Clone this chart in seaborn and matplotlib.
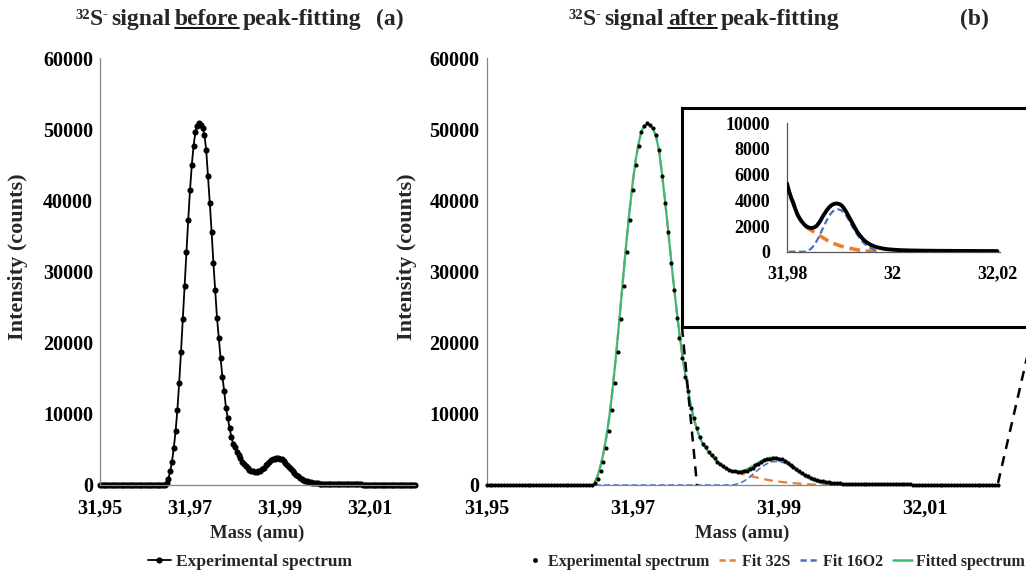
import numpy as np
import pandas as pd
import matplotlib
matplotlib.use("Agg")
import matplotlib.pyplot as plt
import seaborn as sns
from matplotlib.lines import Line2D
from matplotlib.transforms import IdentityTransform

# ---------------- data ----------------
mass = [
    31.9500, 31.9504, 31.9508, 31.9512, 31.9516, 31.9520, 31.9524, 31.9528, 31.9532, 31.9536,
    31.9540, 31.9544, 31.9548, 31.9552, 31.9556, 31.9560, 31.9564, 31.9568, 31.9572, 31.9576,
    31.9580, 31.9584, 31.9588, 31.9592, 31.9596, 31.9600, 31.9604, 31.9608, 31.9612, 31.9616,
    31.9620, 31.9624, 31.9628, 31.9632, 31.9636, 31.9640, 31.9644, 31.9648, 31.9652, 31.9656,
    31.9660, 31.9664, 31.9668, 31.9672, 31.9676, 31.9680, 31.9684, 31.9688, 31.9692, 31.9696,
    31.9700, 31.9704, 31.9708, 31.9712, 31.9716, 31.9720, 31.9724, 31.9728, 31.9732, 31.9736,
    31.9740, 31.9744, 31.9748, 31.9752, 31.9756, 31.9760, 31.9764, 31.9768, 31.9772, 31.9776,
    31.9780, 31.9784, 31.9788, 31.9792, 31.9796, 31.9800, 31.9804, 31.9808, 31.9812, 31.9816,
    31.9820, 31.9824, 31.9828, 31.9832, 31.9836, 31.9840, 31.9844, 31.9848, 31.9852, 31.9856,
    31.9860, 31.9864, 31.9868, 31.9872, 31.9876, 31.9880, 31.9884, 31.9888, 31.9892, 31.9896,
    31.9900, 31.9904, 31.9908, 31.9912, 31.9916, 31.9920, 31.9924, 31.9928, 31.9932, 31.9936,
    31.9940, 31.9944, 31.9948, 31.9952, 31.9956, 31.9960, 31.9964, 31.9968, 31.9972, 31.9976,
    31.9980, 31.9984, 31.9988, 31.9992, 31.9996, 32.0000, 32.0004, 32.0008, 32.0012, 32.0016,
    32.0020, 32.0024, 32.0028, 32.0032, 32.0036, 32.0040, 32.0044, 32.0048, 32.0052, 32.0056,
    32.0060, 32.0064, 32.0068, 32.0072, 32.0076, 32.0080, 32.0084, 32.0088, 32.0092, 32.0096,
    32.0100, 32.0104, 32.0108, 32.0112, 32.0116, 32.0120, 32.0124, 32.0128, 32.0132, 32.0136,
    32.0140, 32.0144, 32.0148, 32.0152, 32.0156, 32.0160, 32.0164, 32.0168, 32.0172, 32.0176,
    32.0180, 32.0184, 32.0188, 32.0192, 32.0196, 32.0200,
]
intensity = [
    0, 0, 0, 0, 0, 0, 0, 0, 0, 0,
    0, 0, 0, 0, 0, 0, 0, 0, 0, 0,
    0, 0, 0, 0, 0, 0, 0, 0, 0, 0,
    0, 0, 0, 10, 20, 30, 60, 320, 900, 1900,
    3300, 5200, 7600, 10600, 14400, 18700, 23300, 28000, 32700, 37200,
    41400, 45000, 47700, 49600, 50500, 50800, 50600, 50200, 49200, 47100,
    43400, 39600, 35600, 31200, 27400, 23500, 20600, 17800, 15200, 13200,
    10800, 9400, 8000, 6700, 5800, 5300, 4700, 4200, 3800, 3300,
    2900, 2600, 2350, 2150, 2000, 1900, 1850, 1850, 1900, 2000,
    2200, 2450, 2750, 3000, 3250, 3450, 3600, 3700, 3750, 3750,
    3700, 3600, 3400, 3150, 2850, 2550, 2250, 1950, 1650, 1400,
    1200, 1000, 850, 720, 610, 520, 450, 390, 340, 300,
    265, 235, 210, 190, 175, 160, 150, 140, 130, 120,
    115, 110, 105, 100, 95, 92, 90, 88, 85, 82,
    80, 78, 76, 75, 73, 72, 70, 69, 68, 67,
    66, 65, 64, 63, 62, 61, 60, 60, 59, 58,
    57, 57, 56, 55, 55, 54, 53, 53, 52, 52,
    51, 51, 50, 50, 49, 49,
]
# fitted components, defined on mass[37:119] (31.9648 ... 31.9972)
fit_32S = [
    400, 1300, 2700, 4500, 6800, 9600, 13000, 17000, 21300, 25800,
    30400, 34800, 38800, 42500, 45600, 48000, 49700, 50500, 50700, 50500,
    50000, 49000, 47000, 43800, 40200, 36300, 32200, 28300, 24600, 21200,
    18200, 15500, 13100, 11000, 9200, 7800, 6600, 5800, 5200, 4600,
    4100, 3700, 3250, 2850, 2550, 2300, 2100, 1950,
    1820, 1720, 1620, 1500, 1400, 1300, 1200, 1100, 1000, 900,
    810, 730, 660, 590, 530, 470, 420, 380, 340, 300,
    260, 225, 190, 160, 130, 105, 85, 65, 50, 35,
    25, 15, 8, 0,
]
fit_16O2 = [
    0, 0, 0, 0, 0, 0, 0, 0, 0, 0,
    0, 0, 0, 0, 0, 0, 0, 0, 0, 0,
    0, 0, 0, 0, 0, 0, 0, 0, 0, 0,
    0, 0, 0, 0, 0, 0, 0, 0, 0, 0,
    0, 0, 0, 0, 0, 0, 0,
    20, 80, 180, 330, 540, 800, 1100, 1450, 1800, 2150,
    2480, 2770, 3000, 3170, 3270, 3300, 3270,
    3200, 3060, 2850, 2580, 2280, 1980, 1700, 1430, 1180, 950,
    760, 600, 460, 350, 260, 190, 130, 80,
]
fit_start, fit_stop = 37, 119
x_ticks_main = [31.95, 31.97, 31.99, 32.01]
x_labels_main = ["31,95", "31,97", "31,99", "32,01"]
y_ticks_main = [0, 10000, 20000, 30000, 40000, 50000, 60000]
x_ticks_inset = [31.98, 32.00, 32.02]
x_labels_inset = ["31,98", "32", "32,02"]
y_ticks_inset = [0, 2000, 4000, 6000, 8000, 10000]

assert len(mass) == len(intensity)
assert len(fit_32S) == fit_stop - fit_start == len(fit_16O2)

exp_df = pd.DataFrame({"mass": mass, "intensity": intensity})
fit_df = pd.DataFrame({"mass": mass[fit_start:fit_stop], "fit_32S": fit_32S, "fit_16O2": fit_16O2})
fit_df["fitted"] = fit_df["fit_32S"] + fit_df["fit_16O2"]

# ---------------- style ----------------
sns.set_theme(style="white")
SERIF = ["Liberation Serif", "DejaVu Serif"]
plt.rcParams["font.family"] = SERIF
plt.rcParams["font.weight"] = "bold"

C_ORANGE = "#ED7D31"
C_BLUE = "#4472C4"
C_GREEN = "#3CB878"
C_AXIS = "#868686"

W, H = 1026, 579
fig = plt.figure(figsize=(W / 100, H / 100), dpi=100)


def rect(l, t, r, b):
    return [l / W, 1 - b / H, (r - l) / W, (b - t) / H]


def style_axis(ax, xt, xl, yt, size, xpad, ypad, spine_color=C_AXIS):
    for s in ["top", "right"]:
        ax.spines[s].set_visible(False)
    for s in ["left", "bottom"]:
        ax.spines[s].set_color(spine_color)
        ax.spines[s].set_linewidth(0.9)
    ax.set_xticks(xt)
    ax.set_xticklabels(xl)
    ax.set_yticks(yt)
    ax.set_yticklabels([str(v) for v in yt])
    ax.tick_params(axis="x", length=0, pad=xpad, labelsize=size)
    ax.tick_params(axis="y", length=0, pad=ypad, labelsize=size)
    for t in ax.get_xticklabels() + ax.get_yticklabels():
        t.set_fontweight("bold")
        t.set_color("black")
    ax.set_xlabel("")
    ax.set_ylabel("")
    ax.grid(False)
    ax.set_facecolor("none")


# ---------------- panel (a) ----------------
ax_a = fig.add_axes(rect(100, 58, 415, 485))
sns.lineplot(data=exp_df, x="mass", y="intensity", ax=ax_a, color="black", lw=1.3,
             marker="o", markersize=4.4, markeredgewidth=0, legend=False, clip_on=False)
ax_a.set_xlim(31.95, 32.02)
ax_a.set_ylim(0, 60000)
style_axis(ax_a, x_ticks_main, x_labels_main, y_ticks_main, 14.5, 10, 5)

# ---------------- panel (b) ----------------
ax_b = fig.add_axes(rect(486.6, 58, 998, 485))
sns.lineplot(data=fit_df, x="mass", y="fit_32S", ax=ax_b, color=C_ORANGE, lw=1.6,
             legend=False, zorder=2).lines[-1].set_dashes([4, 2.5])
sns.lineplot(data=fit_df, x="mass", y="fit_16O2", ax=ax_b, color=C_BLUE, lw=1.1,
             legend=False, zorder=2).lines[-1].set_dashes([4, 2])
sns.lineplot(data=fit_df, x="mass", y="fitted", ax=ax_b, color=C_GREEN, lw=1.6,
             legend=False, zorder=3)
sns.scatterplot(data=exp_df, x="mass", y="intensity", ax=ax_b, color="black", s=9,
                linewidth=0, legend=False, zorder=4, clip_on=False)
ax_b.set_xlim(31.95, 32.02)
ax_b.set_ylim(0, 60000)
style_axis(ax_b, x_ticks_main, x_labels_main, y_ticks_main, 14.5, 10, 5)

# inset frame
box = fig.add_axes(rect(682, 108, 1045, 327), zorder=5)
box.set_xticks([])
box.set_yticks([])
box.set_facecolor("white")
for s in box.spines.values():
    s.set_color("black")
    s.set_linewidth(2.2)

# inset plot
in_df = exp_df[exp_df["mass"] >= 31.98]
ax_in = fig.add_axes(rect(787, 123.3, 1000, 251.7), zorder=6)
l1 = sns.lineplot(data=fit_df, x="mass", y="fit_32S", ax=ax_in, color=C_ORANGE, lw=2.6,
                  legend=False, zorder=2).lines[-1]
l1.set_dashes([3, 1.6])
l2 = sns.lineplot(data=fit_df, x="mass", y="fit_16O2", ax=ax_in, color=C_BLUE, lw=1.6,
                  legend=False, zorder=2).lines[-1]
l2.set_dashes([3, 1.6])
sns.lineplot(data=in_df, x="mass", y="intensity", ax=ax_in, color="black", lw=2.8,
             legend=False, zorder=4)
ax_in.set_xlim(31.98, 32.0205)
ax_in.set_ylim(0, 10000)
style_axis(ax_in, x_ticks_inset, x_labels_inset, y_ticks_inset, 13, 10, 12, spine_color="#555555")

# axis titles
lab_kw = dict(fontweight="bold", ha="center", va="center", transform=IdentityTransform())
fig.text(18, H - 257, "Intensity (counts)", rotation=90, fontsize=16, **lab_kw)
fig.text(407, H - 257, "Intensity (counts)", rotation=90, fontsize=16, **lab_kw)
fig.text(257, H - 533, "Mass (amu)", fontsize=13.5, **lab_kw)
fig.text(742, H - 533, "Mass (amu)", fontsize=13.5, **lab_kw)
fig.text(708, H - 198, "Intensity (counts)", rotation=90, fontsize=14, **lab_kw)
fig.text(893, H - 297, "Mass (uma)", fontsize=14, **lab_kw)

# zoom guide lines
for (x0, y0), (x1, y1) in [((682, 327), (697, 485)), ((998, 483), (1034, 327))]:
    fig.add_artist(Line2D([x0 / W, x1 / W], [1 - y0 / H, 1 - y1 / H], transform=fig.transFigure,
                          color="black", lw=1.8, dashes=[4, 3], zorder=7))

# ---------------- titles with superscripts & underline ----------------
fig.canvas.draw()
renderer = fig.canvas.get_renderer()


def rich_title(x_left, y_base, pieces):
    x = x_left
    for s, size, dy, ul, gap in pieces:
        t = fig.text(x, H - y_base + dy, s, fontsize=size, fontweight="bold",
                     ha="left", va="baseline", transform=IdentityTransform())
        bb = t.get_window_extent(renderer)
        if ul:
            fig.add_artist(Line2D([bb.x0 / W, bb.x1 / W], [(H - y_base - 3) / H] * 2,
                                  transform=fig.transFigure, color="black", lw=1.3))
        x = bb.x1 + gap


TS = 17
SS = 10.5
TB = 25
rich_title(75, TB, [("32", SS, 6, False, 0), ("S", TS, 0, False, 0), ("-", SS, 7, False, 4),
                    ("signal", TS, 0, False, 4), ("before", TS, 0, True, 4),
                    ("peak-fitting", TS, 0, False, 15), ("(a)", TS, 0, False, 0)])
rich_title(568, TB, [("32", SS, 6, False, 0), ("S", TS, 0, False, 0), ("-", SS, 7, False, 4),
                     ("signal", TS, 0, False, 4), ("after", TS, 0, True, 4),
                     ("peak-fitting", TS, 0, False, 0)])
rich_title(960, TB, [("(b)", TS, 0, False, 0)])

# ---------------- legends ----------------
LEG_PROP = {"family": SERIF, "weight": "bold", "size": 11.5}
leg_a = [Line2D([], [], color="black", lw=1.3, marker="o", markersize=4.5, markeredgewidth=0)]
fig.legend(leg_a, ["Experimental spectrum"], loc="center", bbox_to_anchor=(250 / W, 1 - 562 / H),
           frameon=False, prop={"family": SERIF, "weight": "bold", "size": 12.5},
           handlelength=1.3, handletextpad=0.3)
leg_b = [Line2D([], [], color="black", lw=0, marker="o", markersize=3.5, markeredgewidth=0),
         Line2D([], [], color=C_ORANGE, lw=1.8, dashes=[2.5, 1.5]),
         Line2D([], [], color=C_BLUE, lw=1.8, dashes=[2.5, 1.5]),
         Line2D([], [], color=C_GREEN, lw=1.8)]
fig.legend(leg_b, ["Experimental spectrum", "Fit 32S", "Fit 16O2", "Fitted spectrum"], loc="center",
           bbox_to_anchor=(775 / W, 1 - 562 / H), ncol=4, frameon=False, prop=LEG_PROP,
           handlelength=1.2, handletextpad=0.25, columnspacing=0.6, borderpad=0.1)

fig.savefig("out.png", dpi=100)
